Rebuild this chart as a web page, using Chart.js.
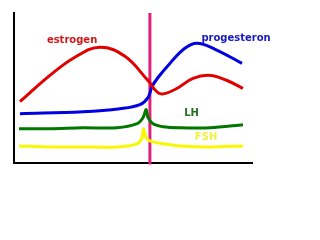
<!DOCTYPE html>
<html><head><meta charset="utf-8">
<script src="https://cdn.jsdelivr.net/npm/chart.js@4"></script>
<style>html,body{margin:0;padding:0;background:#fff;}canvas{display:block;}</style>
</head><body>
<canvas id="c" width="320" height="240"></canvas>
<script>
const estrogenX = [2.5, 15.1, 25.6, 36.1, 46.6, 56.3, 61.3, 67.6, 75.2, 82.4, 89.5, 96.2];
const estrogenY = [40.9, 58.4, 70.5, 77.2, 71.1, 55.0, 46.3, 49.0, 56.4, 58.4, 55.0, 49.7];
const progesteronX = [2.5, 29.0, 44.5, 52.9, 56.3, 58.0, 60.5, 65.5, 71.8, 76.9, 84.5, 95.8];
const progesteronY = [32.9, 34.2, 36.2, 38.9, 43.6, 51.0, 57.0, 66.4, 76.5, 79.9, 75.8, 66.4];
const lhX = [2.1, 15.1, 29.0, 43.3, 51.7, 54.2, 55.5, 56.3, 58.4, 62.6, 69.7, 82.4, 96.2];
const lhY = [22.8, 22.8, 23.5, 23.5, 26.2, 30.2, 35.6, 30.2, 26.2, 24.2, 23.5, 23.5, 25.5];
const fshX = [2.1, 15.1, 29.0, 43.3, 51.7, 53.8, 54.4, 55.5, 57.1, 62.6, 69.7, 82.4, 96.2];
const fshY = [11.4, 10.7, 10.7, 10.7, 12.8, 16.8, 22.8, 16.8, 14.8, 12.8, 11.4, 10.7, 11.4];
const ovulationX = [57.1, 57.1];
const ovulationY = [-1, 100];
const labelNames = ["estrogen", "progesteron", "LH", "FSH"];
const labelX = [24.4, 93.3, 74.6, 80.7];
const labelY = [81.9, 83.2, 32.9, 16.8];

const colors = ["#e00000", "#0000e0", "#007800", "#f8f800"];
const labelColors = ["#d01818", "#1818c0", "#207020", "#f0f040"];

function pts(xs, ys){ return xs.map((x,i)=>({x:x, y:ys[i]})); }

const labelPlugin = {
  id: 'labels',
  afterDatasetsDraw(chart){
    const ctx = chart.ctx, xs = chart.scales.x, ys = chart.scales.y;
    ctx.save();
    ctx.font = 'bold 10px "DejaVu Sans", sans-serif';
    ctx.textAlign = 'center';
    ctx.textBaseline = 'middle';
    labelNames.forEach((t,i)=>{
      ctx.fillStyle = labelColors[i];
      ctx.fillText(t, xs.getPixelForValue(labelX[i]), ys.getPixelForValue(labelY[i]));
    });
    ctx.restore();
  }
};

new Chart(document.getElementById('c'), {
  type: 'line',
  data: {
    datasets: [
      {label:'estrogen', data: pts(estrogenX, estrogenY), borderColor: colors[0], borderWidth: 3, tension: 0.4, pointRadius: 0, fill:false},
      {label:'progesteron', data: pts(progesteronX, progesteronY), borderColor: colors[1], borderWidth: 3, tension: 0.4, pointRadius: 0, fill:false},
      {label:'LH', data: pts(lhX, lhY), borderColor: colors[2], borderWidth: 3, tension: 0.3, pointRadius: 0, fill:false},
      {label:'FSH', data: pts(fshX, fshY), borderColor: colors[3], borderWidth: 3, tension: 0.3, pointRadius: 0, fill:false},
      {label:'ovulation', data: pts(ovulationX, ovulationY), borderColor: '#e0207a', borderWidth: 3, tension: 0, pointRadius: 0, fill:false}
    ]
  },
  options: {
    responsive: false,
    animation: false,
    devicePixelRatio: 1,
    clip: false,
    layout: {padding: {left: 6, top: 13, right: 68, bottom: 69}},
    plugins: {legend: {display: false}, tooltip: {enabled: false}},
    scales: {
      x: {type: 'linear', min: 0, max: 100, grid: {display: false}, ticks: {display: false},
          border: {display: true, color: '#000', width: 2}},
      y: {type: 'linear', min: 0, max: 100, grid: {display: false}, ticks: {display: false},
          border: {display: true, color: '#000', width: 2}}
    }
  },
  plugins: [labelPlugin]
});
</script>
</body></html>
